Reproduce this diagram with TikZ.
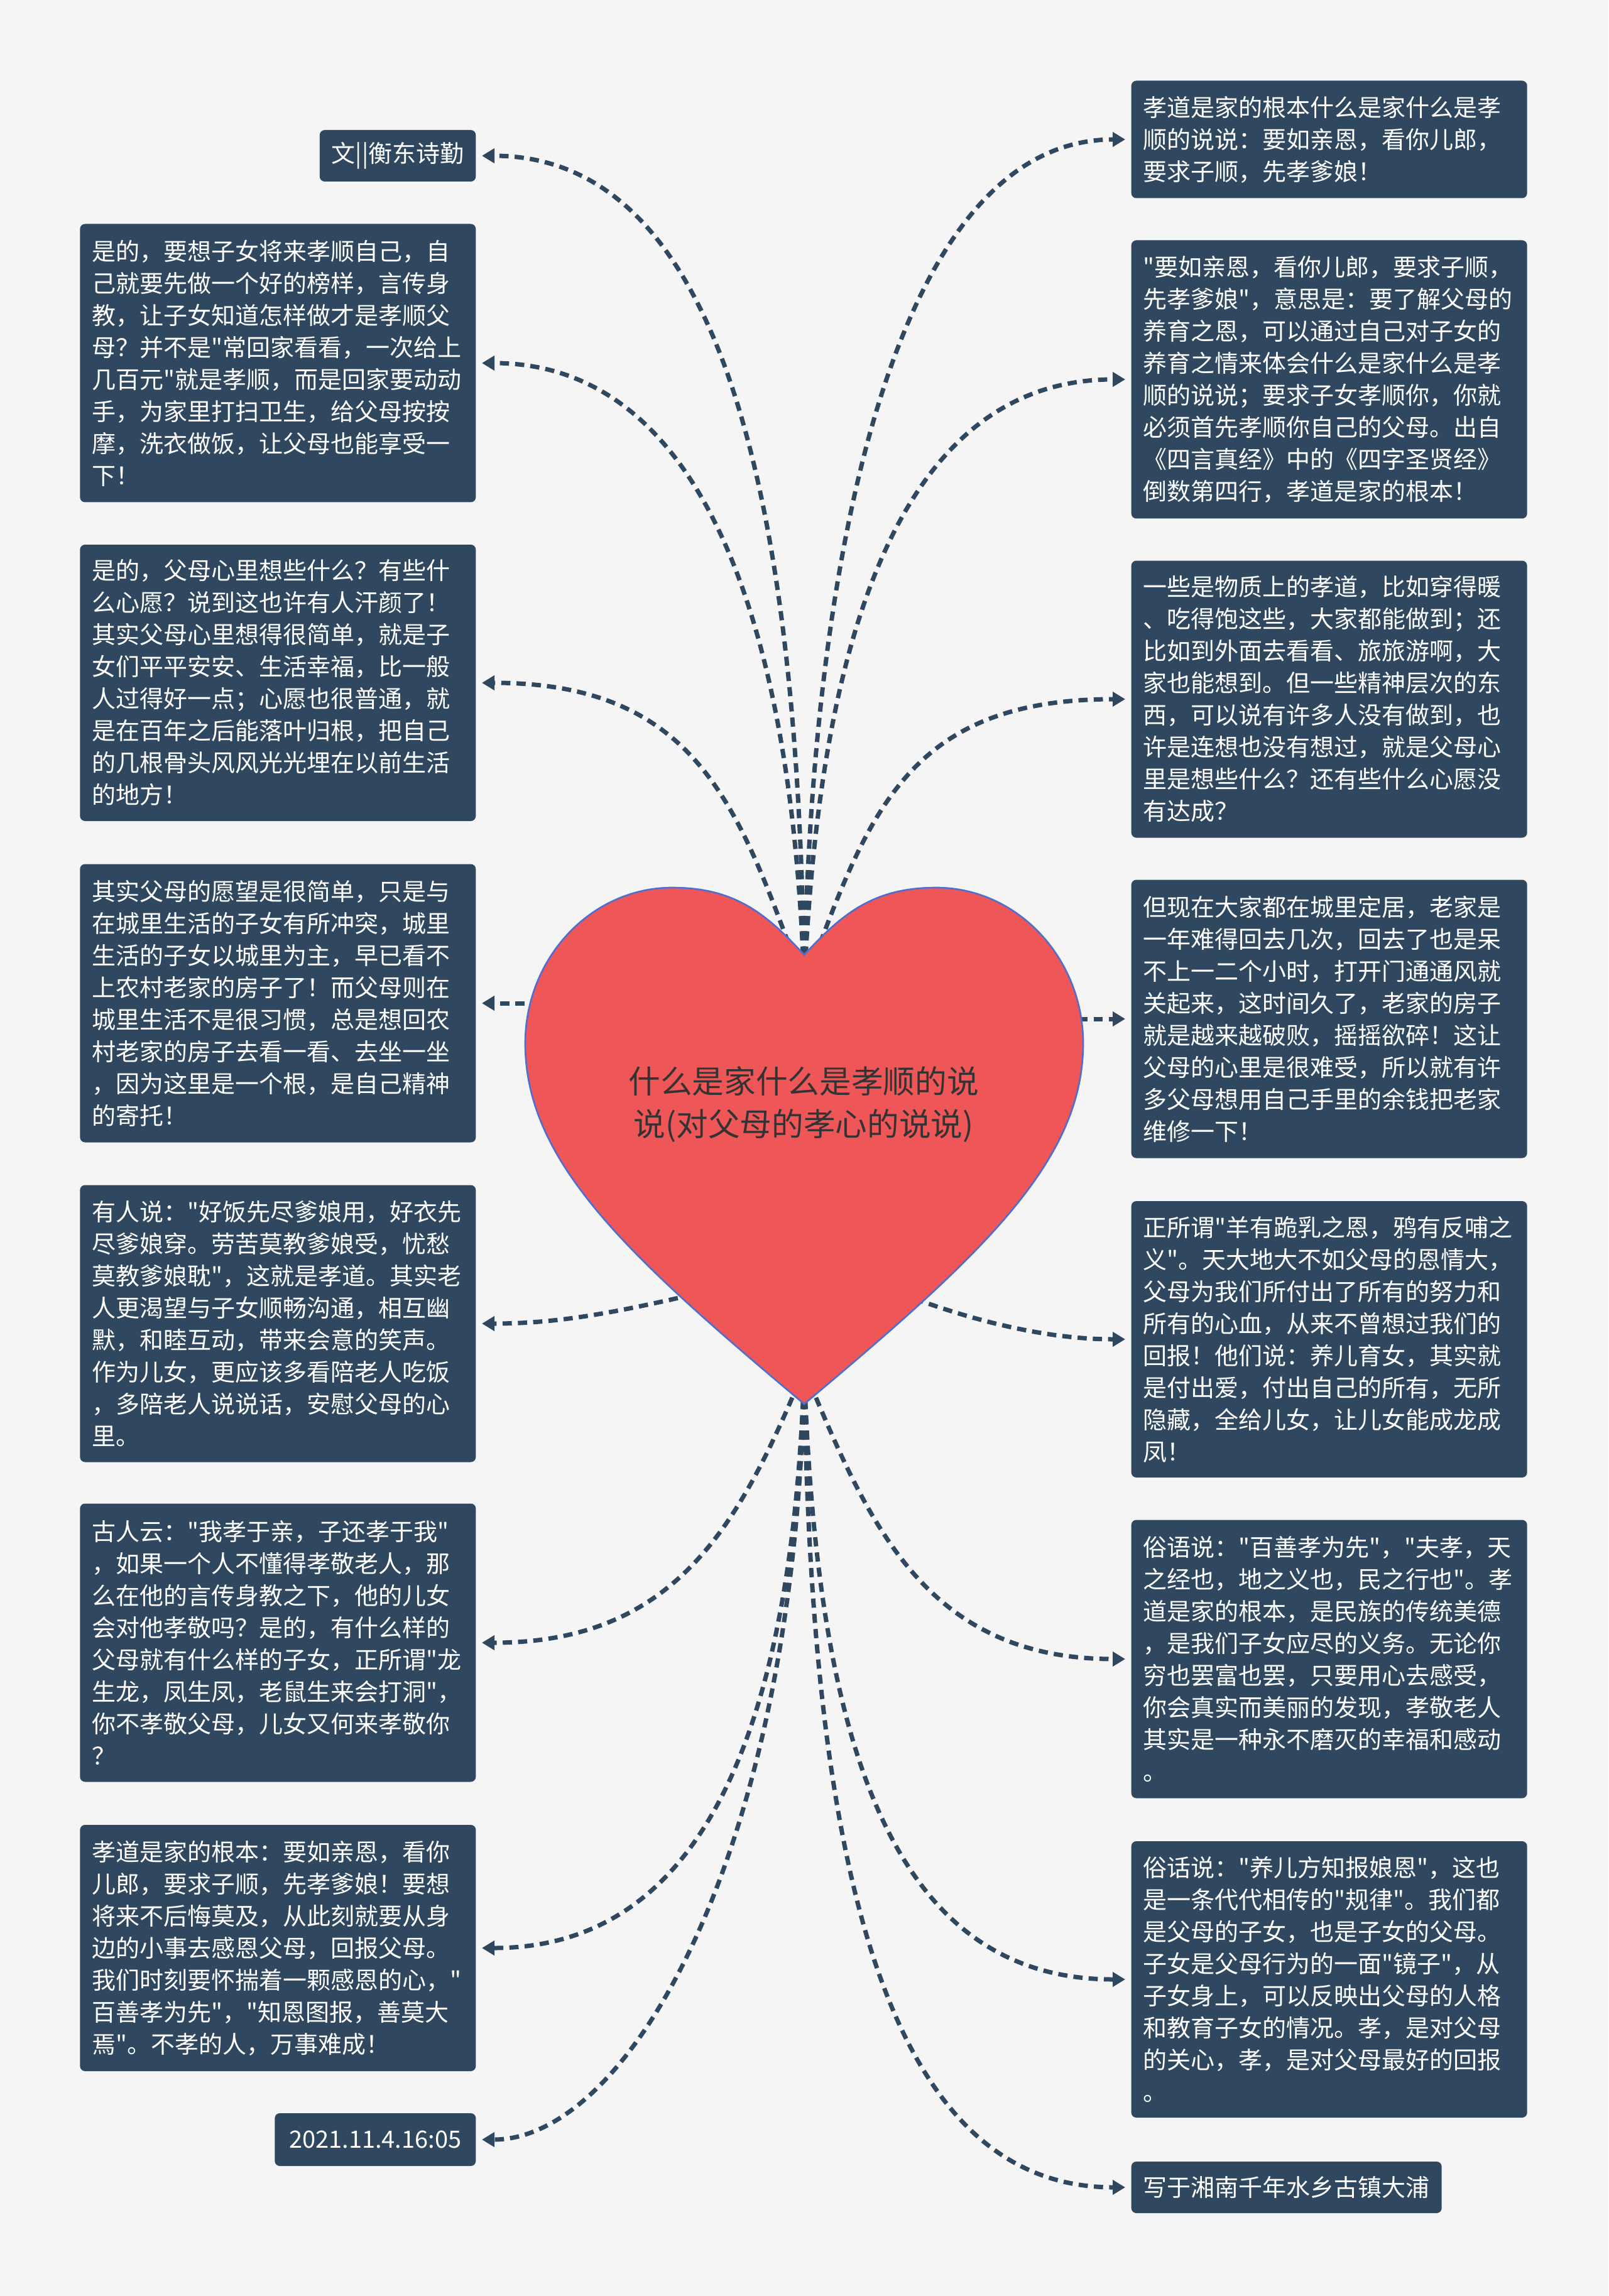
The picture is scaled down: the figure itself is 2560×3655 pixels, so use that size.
\documentclass[tikz,border=0pt]{standalone}
\usepackage{fontspec}
\setmainfont{Noto Sans CJK SC}[Ligatures=TeXOff]
\usetikzlibrary{arrows.meta}
\definecolor{bgc}{RGB}{245,245,245}
\definecolor{boxc}{RGB}{48,72,95}
\definecolor{heartc}{RGB}{239,86,88}
\definecolor{heartline}{RGB}{80,110,205}
\definecolor{roottext}{RGB}{51,51,51}
\newcommand\bxfont{\fontsize{11.4pt}{15.3pt}\selectfont}
\newcommand\rtfont{\fontsize{15.2pt}{20.4pt}\selectfont}
\begin{document}
\begin{tikzpicture}[x=0.3pt,y=-0.3pt,
  bx/.style={rectangle, rounded corners=2.4pt, fill=boxc, text=white, font=\bxfont, inner xsep=5.7pt, inner ysep=0pt},
  tallbox/.style={bx, text width=177.6pt, align=left, minimum height=#1},
  link/.style={draw=boxc, line width=2.1pt, dash pattern=on 4.4pt off 2.9pt, -{Triangle[length=6pt,width=6.8pt]}, shorten >=2.7pt}
]
\fill[bgc] (0,0) rectangle (2560,3655);
\useasboundingbox (0,0) rectangle (2560,3655);

% left boxes
\node[bx, minimum height=24.6pt, minimum width=74.1pt, anchor=east] (L1) at (758,248) {文||衡东诗勤};
\node[tallbox=132.9pt, anchor=east] (L2) at (758,578) {是的，要想子女将来孝顺自己，自\\己就要先做一个好的榜样，言传身\\教，让子女知道怎样做才是孝顺父\\母？并不是"常回家看看，一次给上\\几百元"就是孝顺，而是回家要动动\\手，为家里打扫卫生，给父母按按\\摩，洗衣做饭，让父母也能享受一\\下！};
\node[tallbox=132pt, anchor=east] (L3) at (758,1087) {是的，父母心里想些什么？有些什\\么心愿？说到这也许有人汗颜了！\\其实父母心里想得很简单，就是子\\女们平平安安、生活幸福，比一般\\人过得好一点；心愿也很普通，就\\是在百年之后能落叶归根，把自己\\的几根骨头风风光光埋在以前生活\\的地方！};
\node[tallbox=132.9pt, anchor=east] (L4) at (758,1597) {其实父母的愿望是很简单，只是与\\在城里生活的子女有所冲突，城里\\生活的子女以城里为主，早已看不\\上农村老家的房子了！而父母则在\\城里生活不是很习惯，总是想回农\\村老家的房子去看一看、去坐一坐\\，因为这里是一个根，是自己精神\\的寄托！};
\node[tallbox=132.3pt, anchor=east] (L5) at (758,2107) {有人说："好饭先尽爹娘用，好衣先\\尽爹娘穿。劳苦莫教爹娘受，忧愁\\莫教爹娘耽"，这就是孝道。其实老\\人更渴望与子女顺畅沟通，相互幽\\默，和睦互动，带来会意的笑声。\\作为儿女，更应该多看陪老人吃饭\\，多陪老人说说话，安慰父母的心\\里。};
\node[tallbox=132.9pt, anchor=east] (L6) at (758,2615) {古人云："我孝于亲，子还孝于我"\\，如果一个人不懂得孝敬老人，那\\么在他的言传身教之下，他的儿女\\会对他孝敬吗？是的，有什么样的\\父母就有什么样的子女，正所谓"龙\\生龙，凤生凤，老鼠生来会打洞"，\\你不孝敬父母，儿女又何来孝敬你\\？};
\node[tallbox=117.6pt, anchor=east] (L7) at (758,3101) {孝道是家的根本：要如亲恩，看你\\儿郎，要求子顺，先孝爹娘！要想\\将来不后悔莫及，从此刻就要从身\\边的小事去感恩父母，回报父母。\\我们时刻要怀揣着一颗感恩的心，"\\百善孝为先"，"知恩图报，善莫大\\焉"。不孝的人，万事难成！};
\node[bx, minimum height=25.2pt, minimum width=96pt, anchor=east] (L8) at (758,3406) {2021.11.4.16:05};

% right boxes
\node[tallbox=56.1pt, anchor=west] (R1) at (1800,222) {孝道是家的根本什么是家什么是孝\\顺的说说：要如亲恩，看你儿郎，\\要求子顺，先孝爹娘！};
\node[tallbox=132.9pt, anchor=west] (R2) at (1800,604) {"要如亲恩，看你儿郎，要求子顺，\\先孝爹娘"，意思是：要了解父母的\\养育之恩，可以通过自己对子女的\\养育之情来体会什么是家什么是孝\\顺的说说；要求子女孝顺你，你就\\必须首先孝顺你自己的父母。出自\\《四言真经》中的《四字圣贤经》\\倒数第四行，孝道是家的根本！};
\node[tallbox=132.3pt, anchor=west] (R3) at (1800,1113) {一些是物质上的孝道，比如穿得暖\\、吃得饱这些，大家都能做到；还\\比如到外面去看看、旅旅游啊，大\\家也能想到。但一些精神层次的东\\西，可以说有许多人没有做到，也\\许是连想也没有想过，就是父母心\\里是想些什么？还有些什么心愿没\\有达成？};
\node[tallbox=132.9pt, anchor=west] (R4) at (1800,1622) {但现在大家都在城里定居，老家是\\一年难得回去几次，回去了也是呆\\不上一二个小时，打开门通通风就\\关起来，这时间久了，老家的房子\\就是越来越破败，摇摇欲碎！这让\\父母的心里是很难受，所以就有许\\多父母想用自己手里的余钱把老家\\维修一下！};
\node[tallbox=132pt, anchor=west] (R5) at (1800,2132) {正所谓"羊有跪乳之恩，鸦有反哺之\\义"。天大地大不如父母的恩情大，\\父母为我们所付出了所有的努力和\\所有的心血，从来不曾想过我们的\\回报！他们说：养儿育女，其实就\\是付出爱，付出自己的所有，无所\\隐藏，全给儿女，让儿女能成龙成\\凤！};
\node[tallbox=132.9pt, anchor=west] (R6) at (1800,2641) {俗语说："百善孝为先"，"夫孝，天\\之经也，地之义也，民之行也"。孝\\道是家的根本，是民族的传统美德\\，是我们子女应尽的义务。无论你\\穷也罢富也罢，只要用心去感受，\\你会真实而美丽的发现，孝敬老人\\其实是一种永不磨灭的幸福和感动\\。};
\node[tallbox=132pt, anchor=west] (R7) at (1800,3151) {俗话说："养儿方知报娘恩"，这也\\是一条代代相传的"规律"。我们都\\是父母的子女，也是子女的父母。\\子女是父母行为的一面"镜子"，从\\子女身上，可以反映出父母的人格\\和教育子女的情况。孝，是对父母\\的关心，孝，是对父母最好的回报\\。};
\node[bx, minimum height=24.6pt, minimum width=148.2pt, anchor=west] (R8) at (1800,3482) {写于湘南千年水乡古镇大浦};

% connector start points (hidden under the heart)
\coordinate (top) at (1280,1570);
\coordinate (bot) at (1280,2180);
\coordinate (l4s) at (1200,1597);
\coordinate (r4s) at (1400,1622);
\coordinate (l5s) at (1150,2050);
\coordinate (r5s) at (1410,2050);

\draw[link] (top) .. controls (1272,800) and (1150,248) .. (L1.east);
\draw[link] (top) .. controls (1262,1000) and (1120,578) .. (L2.east);
\draw[link] (top) .. controls (1180,1300) and (1120,1087) .. (L3.east);
\draw[link] (l4s) -- (L4.east);
\draw[link] (l5s) .. controls (1000,2085) and (900,2107) .. (L5.east);
\draw[link] (bot) .. controls (1180,2420) and (1080,2615) .. (L6.east);
\draw[link] (bot) .. controls (1262,2750) and (1120,3101) .. (L7.east);
\draw[link] (bot) .. controls (1268,2950) and (1000,3406) .. (L8.east);

\draw[link] (top) .. controls (1290,900) and (1420,222) .. (R1.west);
\draw[link] (top) .. controls (1300,1100) and (1400,604) .. (R2.west);
\draw[link] (top) .. controls (1380,1300) and (1440,1113) .. (R3.west);
\draw[link] (r4s) -- (R4.west);
\draw[link] (r5s) .. controls (1560,2110) and (1680,2132) .. (R5.west);
\draw[link] (bot) .. controls (1380,2420) and (1470,2641) .. (R6.west);
\draw[link] (bot) .. controls (1300,2800) and (1430,3151) .. (R7.west);
\draw[link] (bot) .. controls (1290,3000) and (1420,3482) .. (R8.west);

% heart
\filldraw[fill=heartc, draw=heartline, line width=0.8pt]
 (1280,1520) .. controls (1340,1455) and (1390,1413) .. (1490,1413)
 .. controls (1619,1413) and (1724,1525) .. (1724,1661)
 .. controls (1724,1850) and (1560,2000) .. (1280,2235)
 .. controls (1000,2000) and (836,1850) .. (836,1661)
 .. controls (836,1525) and (941,1413) .. (1070,1413)
 .. controls (1170,1413) and (1220,1455) .. (1280,1520) -- cycle;
\node[font=\rtfont, text=roottext, align=center] (root) at (1279,1758) {什么是家什么是孝顺的说\\说(对父母的孝心的说说)};
\end{tikzpicture}
\end{document}
